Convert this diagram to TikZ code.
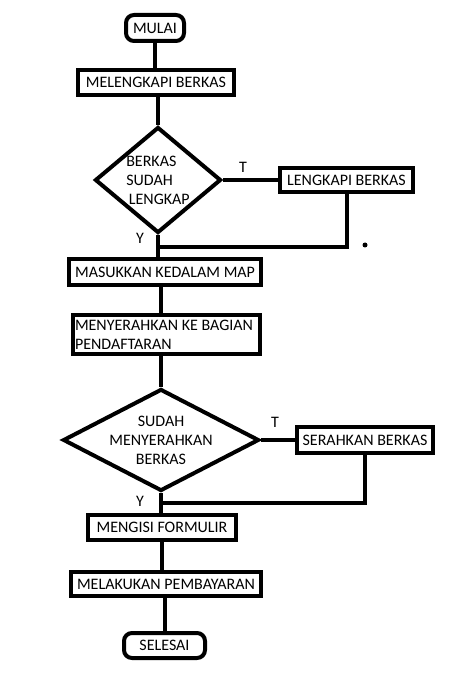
\documentclass[tikz,border=0pt]{standalone}
\usepackage{fontspec}
\setmainfont{Carlito}
\usetikzlibrary{shapes.geometric}

\begin{document}
\begin{tikzpicture}[x=1pt, y=-1pt, line width=4pt,
    every node/.style={font=\fontsize{16}{19}\selectfont},
    proses/.style={draw, rectangle, inner sep=2pt},
    terminal/.style={draw, rectangle, rounded corners=8pt, inner sep=2pt},
    cek/.style={draw, diamond, inner xsep=-6pt, inner ysep=-4pt}]
    \useasboundingbox (0,0) rectangle (474,692);

    \node[terminal, minimum width=58pt, minimum height=26pt] (mulai) at (155,28) {MULAI};
    \node[proses, minimum width=156pt, minimum height=25pt] (melengkapi) at (156,82.5) {MELENGKAPI BERKAS};
    \node[cek, shape aspect=1.2, minimum width=126pt, minimum height=106pt, align=left] (cekberkas) at (158,180) {BERKAS\\SUDAH\\\,LENGKAP};
    \node[proses, minimum width=133pt, minimum height=24pt] (lengkapi) at (346.5,180) {LENGKAPI BERKAS};
    \coordinate (gabung1) at (158,247);

    \node[proses, minimum width=192pt, minimum height=26pt] (masukkan) at (165,272) {MASUKKAN KEDALAM MAP};
    \node[proses, minimum width=187pt, minimum height=39pt, text width=183pt, align=flush left] (menyerahkan) at (166.5,334.5) {MENYERAHKAN KE BAGIAN\\PENDAFTARAN};

    \node[cek, shape aspect=2, minimum width=196pt, minimum height=102pt, align=center] (cekserah) at (161,440) {SUDAH\\MENYERAHKAN\\BERKAS};
    \node[proses, minimum width=136pt, minimum height=26pt] (serahkan) at (365,440) {SERAHKAN BERKAS};
    \coordinate (gabung2) at (161,503);

    \node[proses, minimum width=148pt, minimum height=25pt] (mengisi) at (162,527.5) {MENGISI FORMULIR};
    \node[proses, minimum width=190pt, minimum height=24pt] (bayar) at (166,584) {MELAKUKAN PEMBAYARAN};
    \node[terminal, minimum width=81pt, minimum height=25pt] (selesai) at (164.5,645.5) {SELESAI};

    \draw[-] (mulai.south) -- (mulai.south |- melengkapi.north);
    \draw[-] (cekberkas.north) -- (cekberkas.north |- melengkapi.south);
    \draw[-] (cekberkas.east) -- (lengkapi.west);
    \draw[-] (cekberkas.south) -- (cekberkas.south |- masukkan.north);
    \draw[-] (lengkapi.south) |- (gabung1);
    \fill (365,245) circle (2.5);

    \draw[-] (cekserah.north |- masukkan.south) -- (cekserah.north |- menyerahkan.north);
    \draw[-] (cekserah.north) -- (cekserah.north |- menyerahkan.south);
    \draw[-] (cekserah.east) -- (serahkan.west);
    \draw[-] (cekserah.south) -- (cekserah.south |- mengisi.north);
    \draw[-] (serahkan.south) |- (gabung2);

    \draw[-] (mengisi.south) -- (mengisi.south |- bayar.north);
    \draw[-] (selesai.north) -- (selesai.north |- bayar.south);

    \node (t1) at (243,167) {T};
    \node (y1) at (140,238) {Y};
    \node (t2) at (275,422) {T};
    \node (y2) at (140,501) {Y};

\end{tikzpicture}
\end{document}
